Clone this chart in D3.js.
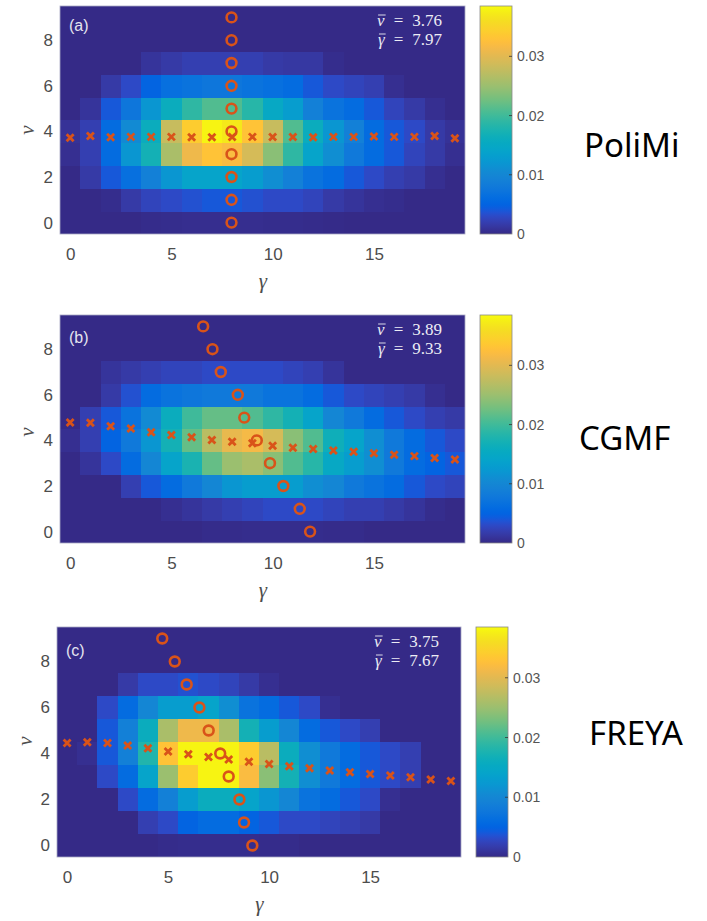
<!DOCTYPE html>
<html>
<head>
<meta charset="utf-8">
<script src="https://cdn.jsdelivr.net/npm/d3@7"></script>
<style>
  html, body { margin: 0; padding: 0; background: #ffffff; }
  svg { display: block; }
</style>
</head>
<body>
<svg id="chart" width="707" height="921"></svg>
<script>
// ---------------- DATA ----------------
const gammaBins = [0,1,2,3,4,5,6,7,8,9,10,11,12,13,14,15,16,17,18,19];
const nuBins = [0,1,2,3,4,5,6,7,8,9];
const xTicks = [0, 5, 10, 15];
const yTicks = [0, 2, 4, 6, 8];
const cbTicks = [0, 0.01, 0.02, 0.03];
const cbMax = 0.0385;
const modelNames = ["PoliMi", "CGMF", "FREYA"];
const panelTags = ["(a)", "(b)", "(c)"];
const nuMeans = ["3.76", "3.89", "3.75"];
const gammaMeans = ["7.97", "9.33", "7.67"];

// joint probability P(nu, gamma) in units of 1e-3; rows = nu 0..9, columns = gamma 0..19
const polimiProb = [
  [0,0,0,0,0.2,0.3,0.4,0.4,0.4,0.4,0.3,0.3,0.2,0.1,0,0,0,0,0,0],
  [0,0,0.3,1.5,2.5,3,3.5,4,4,3.5,3,3,2.5,1.5,1,0.5,0.3,0,0,0],
  [0,1.5,4,6.5,9,12,14,14,14,13,11,9,7,6,4,3,2,1.5,0.5,0],
  [0.5,2,6,12,17,26,31,33,32,29,24,19,14,11,8,6,4,2.5,1.5,0.5],
  [0.8,2,6,10.5,16,28,34,38,37,33,28,21,16,12,9,6,4,3,1.5,0.8],
  [0,1,4,7.5,12,16,19,21,21,18.5,15,13,9,7,6,4,2.5,1.5,0.5,0],
  [0,0,1.5,3,5,6.5,7,7.5,7.5,7,6.5,6,4,3,2.5,2,0.5,0,0,0],
  [0,0,0,0,1,1.5,2,2,2,2,1.5,1.3,1.3,0.3,0,0,0,0,0,0],
  [0,0,0,0,0,0,0,0,0,0,0,0,0,0,0,0,0,0,0,0],
  [0,0,0,0,0,0,0,0,0,0,0,0,0,0,0,0,0,0,0,0]
];
const cgmfProb = [
  [0,0,0,0,0,0,0,0.2,0.2,0.3,0.3,0.3,0.3,0.2,0.2,0,0,0,0,0],
  [0,0,0,0,0,0.5,1,1.5,2,2.5,3,3,3,2.5,2,2,1.5,1,0.3,0],
  [0,0,0,2,4,6,8,10,12,13,13,13,11,10,8,7,6,4,3,2.5],
  [0,1,3,6,10,14,17.5,22,25,26,24,21,18.5,15,13,11,8,6,5,4],
  [0.5,2,5,8,12,17,22,27,30.5,31.5,29,24,21,16.5,14,11,8,6,4,3],
  [0,2,4,7,10.5,16,20,22,22,21,19,17,14,10,8,6,4,3,2,1.5],
  [0,0,1.5,3.5,6,7,7.5,8,8,8,7,7,6,4,3,2.5,2,1.5,0.5,0],
  [0,0,1,1.5,2,2.5,2.5,3,3,3,3,2.5,2,1,0,0,0,0,0,0],
  [0,0,0,0,0,0,0,0,0,0,0,0,0,0,0,0,0,0,0,0],
  [0,0,0,0,0,0,0,0,0,0,0,0,0,0,0,0,0,0,0,0]
];
const freyaProb = [
  [0,0,0,0,0,0.2,0.3,0.3,0.3,0.3,0.2,0.2,0,0,0,0,0,0,0,0],
  [0,0,0,0,2,3,5,6,6,5,4,3,3,2.5,2,1.5,0,0,0,0],
  [0,0,0,3,6,9,13,16,16,14,12,10,7,6,4,3,0.5,0,0,0],
  [0,0,3,6,14,25,34,38,38,32,24,17,11,8,6,4,3,2,0,0],
  [0,0.5,4,9,18,33,38,38,38,34,27,16,11,8,6,4,3,2,0,0],
  [0,0,4,9,16,26,31,31,26,17,13,10,6,4,3,2,0,0,0,0],
  [0,0,3,6,10,13,13,14,11,7,6,4,3,0.5,0,0,0,0,0,0],
  [0,0,0,1.5,3,3,3.5,3,2.5,1.5,0.5,0,0,0,0,0,0,0,0,0],
  [0,0,0,0,0,0,0,0,0,0,0,0,0,0,0,0,0,0,0,0],
  [0,0,0,0,0,0,0,0,0,0,0,0,0,0,0,0,0,0,0,0]
];

// mean nu for each gamma (crosses)
const polimiNuGivenGamma = [3.72,3.8,3.74,3.76,3.76,3.76,3.74,3.74,3.75,3.76,3.75,3.75,3.74,3.76,3.76,3.78,3.76,3.76,3.8,3.7];
const cgmfNuGivenGamma = [4.79,4.77,4.62,4.52,4.36,4.24,4.14,4.02,3.94,3.88,3.77,3.68,3.62,3.56,3.5,3.44,3.37,3.31,3.23,3.16];
const freyaNuGivenGamma = [4.46,4.49,4.46,4.35,4.23,4.09,3.97,3.85,3.74,3.64,3.54,3.45,3.36,3.26,3.18,3.11,3.04,2.97,2.87,2.8];

// mean gamma for each nu (circles)
const polimiGammaGivenNu = [7.97,7.97,7.97,7.97,7.97,7.97,7.97,7.97,7.97,7.97];
const cgmfGammaGivenNu = [11.85,11.34,10.53,9.87,9.22,8.6,8.28,7.44,7.03,6.57];
const freyaGammaGivenNu = [9.17,8.76,8.53,8.0,7.58,7.01,6.55,5.92,5.33,4.71];

// parula colormap (MATLAB, 64 entries)
const parula = [
[0.2081,0.1663,0.5292],[0.2116,0.1898,0.5777],[0.2123,0.2138,0.6270],[0.2081,0.2386,0.6771],
[0.1959,0.2645,0.7279],[0.1707,0.2919,0.7792],[0.1253,0.3242,0.8303],[0.0591,0.3598,0.8683],
[0.0117,0.3875,0.8820],[0.0060,0.4086,0.8828],[0.0165,0.4266,0.8786],[0.0329,0.4430,0.8720],
[0.0498,0.4586,0.8641],[0.0629,0.4737,0.8554],[0.0723,0.4887,0.8467],[0.0779,0.5040,0.8384],
[0.0793,0.5200,0.8312],[0.0749,0.5375,0.8263],[0.0641,0.5570,0.8240],[0.0488,0.5772,0.8228],
[0.0343,0.5966,0.8199],[0.0265,0.6137,0.8135],[0.0239,0.6287,0.8038],[0.0231,0.6418,0.7913],
[0.0228,0.6535,0.7768],[0.0267,0.6642,0.7607],[0.0384,0.6743,0.7436],[0.0590,0.6838,0.7254],
[0.0843,0.6928,0.7062],[0.1133,0.7015,0.6859],[0.1453,0.7098,0.6646],[0.1801,0.7177,0.6424],
[0.2178,0.7250,0.6193],[0.2586,0.7317,0.5954],[0.3022,0.7376,0.5712],[0.3482,0.7424,0.5473],
[0.3953,0.7459,0.5244],[0.4420,0.7481,0.5033],[0.4871,0.7491,0.4840],[0.5300,0.7491,0.4661],
[0.5709,0.7485,0.4494],[0.6099,0.7473,0.4337],[0.6473,0.7456,0.4188],[0.6834,0.7435,0.4044],
[0.7184,0.7411,0.3905],[0.7525,0.7384,0.3768],[0.7858,0.7356,0.3633],[0.8185,0.7327,0.3498],
[0.8507,0.7299,0.3360],[0.8824,0.7274,0.3217],[0.9139,0.7258,0.3063],[0.9450,0.7261,0.2886],
[0.9739,0.7314,0.2666],[0.9938,0.7455,0.2403],[0.9990,0.7653,0.2164],[0.9955,0.7861,0.1967],
[0.9880,0.8066,0.1794],[0.9789,0.8271,0.1633],[0.9697,0.8481,0.1475],[0.9626,0.8705,0.1309],
[0.9589,0.8949,0.1132],[0.9598,0.9218,0.0948],[0.9661,0.9514,0.0755],[0.9763,0.9831,0.0538]
].map(c => d3.rgb(c[0]*255, c[1]*255, c[2]*255).formatHex());

// ---------------- LAYOUT ----------------
const panels = [
  {prob: polimiProb, nuG: polimiNuGivenGamma, gN: polimiGammaGivenNu,
   x0: 60, x1: 465, y0: 6, y1: 234, cb0: 480, cb1: 512,
   nameX: 584, nameY: 157, tagX: 69, tagY: 31, statX: 442, statY: 26, nuLabY: 130, nuLabX: 28},
  {prob: cgmfProb, nuG: cgmfNuGivenGamma, gN: cgmfGammaGivenNu,
   x0: 60, x1: 465, y0: 315, y1: 543, cb0: 480, cb1: 512,
   nameX: 579, nameY: 450, tagX: 69, tagY: 343, statX: 442, statY: 335, nuLabY: 432, nuLabX: 28},
  {prob: freyaProb, nuG: freyaNuGivenGamma, gN: freyaGammaGivenNu,
   x0: 57, x1: 461, y0: 627, y1: 857, cb0: 476, cb1: 508,
   nameX: 589, nameY: 745, tagX: 66, tagY: 656, statX: 439, statY: 647, nuLabY: 741, nuLabX: 26}
];

const svg = d3.select("#chart");
const color = d3.scaleLinear()
  .domain(parula.map((_, i) => i / (parula.length - 1) * cbMax * 1000))
  .range(parula)
  .interpolate(d3.interpolateRgb)
  .clamp(true);

const markerColor = "#D95319";
const tickColor = "#4d4d4d";
const sansFont = "'Liberation Sans', Arial, Helvetica, sans-serif";
const serifFont = "'Liberation Serif', 'Times New Roman', serif";

// colorbar gradient
const defs = svg.append("defs");
const grad = defs.append("linearGradient").attr("id", "parulaGrad")
  .attr("x1", 0).attr("y1", 1).attr("x2", 0).attr("y2", 0);
parula.forEach((c, i) => grad.append("stop")
  .attr("offset", i / (parula.length - 1)).attr("stop-color", c));

panels.forEach((p, pi) => {
  const x = d3.scaleLinear().domain([-0.5, 19.5]).range([p.x0, p.x1]);
  const y = d3.scaleLinear().domain([-0.5, 9.5]).range([p.y1, p.y0]);
  const g = svg.append("g");

  // background
  g.append("rect").attr("x", p.x0).attr("y", p.y0)
    .attr("width", p.x1 - p.x0).attr("height", p.y1 - p.y0)
    .attr("fill", parula[0]);

  // cells
  const cells = [];
  nuBins.forEach((nu, ri) => gammaBins.forEach((gm, ci) => {
    cells.push({nu, gm, v: p.prob[ri][ci]});
  }));
  g.append("g").selectAll("rect").data(cells).join("rect")
    .attr("x", d => x(d.gm - 0.5))
    .attr("y", d => y(d.nu + 0.5))
    .attr("width", d => x(d.gm + 0.5) - x(d.gm - 0.5) + 0.4)
    .attr("height", d => y(d.nu - 0.5) - y(d.nu + 0.5) + 0.4)
    .attr("fill", d => color(d.v))
    .attr("shape-rendering", "crispEdges");

  // frame
  g.append("rect").attr("x", p.x0).attr("y", p.y0)
    .attr("width", p.x1 - p.x0).attr("height", p.y1 - p.y0)
    .attr("fill", "none").attr("stroke", "#a9a9c4").attr("stroke-width", 0.8);

  // axes
  const xa = g.append("g").attr("transform", `translate(0,${p.y1})`)
    .call(d3.axisBottom(x).tickValues(xTicks).tickSize(0).tickPadding(14).tickFormat(d3.format("d")));
  const ya = g.append("g").attr("transform", `translate(${p.x0},0)`)
    .call(d3.axisLeft(y).tickValues(yTicks).tickSize(0).tickPadding(7).tickFormat(d3.format("d")));
  [xa, ya].forEach(a => {
    a.select(".domain").remove();
    a.selectAll("text").attr("font-family", sansFont).attr("font-size", 17).attr("fill", tickColor);
  });

  // axis labels
  g.append("text").attr("x", (p.x0 + p.x1) / 2 + 0.5).attr("y", p.y1 + 54)
    .attr("text-anchor", "middle").attr("font-family", serifFont).attr("font-style", "italic")
    .attr("font-size", 21).attr("fill", tickColor).text("γ");
  g.append("text").attr("transform", `translate(${p.nuLabX + 6},${p.nuLabY}) rotate(-90)`)
    .attr("text-anchor", "middle").attr("font-family", serifFont).attr("font-style", "italic")
    .attr("font-size", 21).attr("fill", tickColor).text("ν");

  // crosses: mean nu per gamma
  const cs = 3.5;
  const crossPath = d => {
    const cx = x(d.gm), cy = y(d.val);
    return `M${cx - cs},${cy - cs}L${cx + cs},${cy + cs}M${cx - cs},${cy + cs}L${cx + cs},${cy - cs}`;
  };
  g.append("g").selectAll("path")
    .data(gammaBins.map((gm, i) => ({gm, val: p.nuG[i]})))
    .join("path").attr("d", crossPath)
    .attr("stroke", markerColor).attr("stroke-width", 2.8).attr("fill", "none");

  // circles: mean gamma per nu
  g.append("g").selectAll("circle")
    .data(nuBins.map((nu, i) => ({nu, val: p.gN[i]})))
    .join("circle")
    .attr("cx", d => x(d.val)).attr("cy", d => y(d.nu)).attr("r", 4.9)
    .attr("fill", "none").attr("stroke", markerColor).attr("stroke-width", 2.6);

  // panel tag
  g.append("text").attr("x", p.tagX).attr("y", p.tagY)
    .attr("font-family", sansFont).attr("font-size", 16).attr("fill", "#e4e4f0")
    .text(panelTags[pi]);

  // mean statistics
  const stats = [["ν", nuMeans[pi]], ["γ", gammaMeans[pi]]];
  stats.forEach((s, si) => {
    const by = p.statY + si * 19;
    const t = g.append("text").attr("x", p.statX).attr("y", by)
      .attr("text-anchor", "end").attr("font-family", serifFont)
      .attr("font-size", 17).attr("fill", "#ececf4");
    t.append("tspan").attr("font-style", "italic").text(s[0]);
    t.append("tspan").attr("dx", 9).text("=");
    t.append("tspan").attr("dx", 9).text(s[1]);
    const ext = t.node().getExtentOfChar(0);
    g.append("line")
      .attr("x1", ext.x + 1).attr("x2", ext.x + ext.width + 1)
      .attr("y1", by - 11).attr("y2", by - 11)
      .attr("stroke", "#ececf4").attr("stroke-width", 0.9);
  });

  // colorbar
  const cy = d3.scaleLinear().domain([0, cbMax]).range([p.y1, p.y0]);
  g.append("rect").attr("x", p.cb0).attr("y", p.y0)
    .attr("width", p.cb1 - p.cb0).attr("height", p.y1 - p.y0)
    .attr("fill", "url(#parulaGrad)").attr("stroke", "#8a8a8a").attr("stroke-width", 0.8);
  g.append("g").selectAll("line").data(cbTicks.filter(t => t > 0)).join("line")
    .attr("x1", p.cb1 - 3).attr("x2", p.cb1).attr("y1", d => cy(d)).attr("y2", d => cy(d))
    .attr("stroke", "#333").attr("stroke-width", 0.8);
  const ca = g.append("g").attr("transform", `translate(${p.cb1},0)`)
    .call(d3.axisRight(cy).tickValues(cbTicks).tickSize(0).tickPadding(5)
      .tickFormat(d => d === 0 ? "0" : d3.format(".2f")(d)));
  ca.select(".domain").remove();
  ca.selectAll("text").attr("font-family", sansFont).attr("font-size", 14).attr("fill", "#555");

  // model name
  svg.append("text").attr("x", p.nameX).attr("y", p.nameY)
    .attr("font-family", "'Noto Sans', 'Open Sans', sans-serif").attr("font-size", 33)
    .attr("fill", "#000").text(modelNames[pi]);
});
</script>
</body>
</html>
